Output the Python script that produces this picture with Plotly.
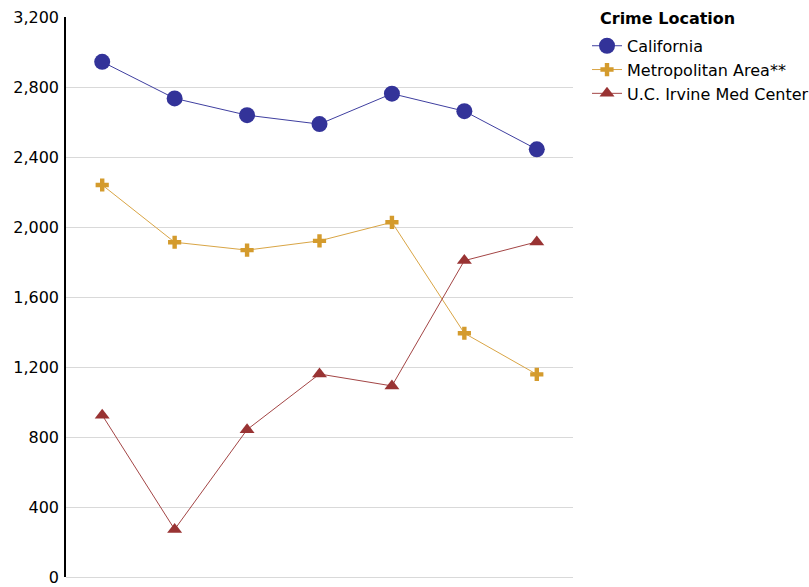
import plotly.graph_objects as go

categories = [1, 2, 3, 4, 5, 6, 7]
california = [2944, 2735, 2639, 2588, 2762, 2662, 2444]
metro = [2240, 1913, 1868, 1921, 2027, 1393, 1158]
uci = [925, 272, 842, 1160, 1092, 1808, 1915]
y_ticks = [0, 400, 800, 1200, 1600, 2000, 2400, 2800, 3200]
legend_title = "Crime Location"

FONT = "DejaVu Sans"
PLOT_L, PLOT_R = 66, 573
PLOT_W = PLOT_R - PLOT_L

fig = go.Figure()
fig.add_trace(go.Scatter(
    x=categories, y=california, name="California", mode="lines+markers",
    line=dict(color="#3F3FA0", width=1),
    marker=dict(symbol="circle", size=16, color="#333399"),
))
fig.add_trace(go.Scatter(
    x=categories, y=metro, name="Metropolitan Area**", mode="lines+markers",
    line=dict(color="#D9A545", width=1),
    marker=dict(symbol="cross", size=11, color="#D49B2D"),
))
fig.add_trace(go.Scatter(
    x=categories, y=uci, name="U.C. Irvine Med Center", mode="lines+markers",
    line=dict(color="#A34545", width=1),
    marker=dict(symbol="triangle-up", size=13, color="#993333"),
))

fig.add_annotation(
    text=f"<b>{legend_title}</b>", xref="paper", yref="paper",
    x=(598 - PLOT_L) / PLOT_W, xanchor="left",
    y=1.0 - (19 - 6) / 571, yanchor="middle",
    showarrow=False, font=dict(family=FONT, size=16, color="#000000"),
)

fig.update_layout(
    width=809, height=587,
    margin=dict(l=PLOT_L, r=809 - PLOT_R, t=6, b=10, autoexpand=False),
    paper_bgcolor="white", plot_bgcolor="white",
    font=dict(family=FONT, size=16, color="#000000"),
    showlegend=True,
    legend=dict(
        x=(587 - PLOT_L) / PLOT_W, xanchor="left", y=0.96, yanchor="top",
        font=dict(family=FONT, size=16),
        tracegroupgap=0, itemwidth=30,
        bgcolor="rgba(0,0,0,0)",
    ),
    xaxis=dict(
        range=[0.5, 7.5], showticklabels=False, showgrid=False,
        zeroline=False, showline=False, ticks="", automargin=False,
    ),
    yaxis=dict(
        range=[0, 3200], tickvals=y_ticks, domain=[0, 0.9807],
        ticktext=[f"{v:,}" for v in y_ticks],
        showgrid=True, gridcolor="#D9D9D9", gridwidth=1,
        zeroline=True, zerolinecolor="#D9D9D9", zerolinewidth=1,
        showline=True, linecolor="#000000", linewidth=1.5,
        ticks="", ticklabelstandoff=2, automargin=False,
        tickfont=dict(family=FONT, size=16),
    ),
)

fig.write_html(
    "out.html",
    config={"displayModeBar": False},
    post_script="document.body.style.margin='0';",
)
